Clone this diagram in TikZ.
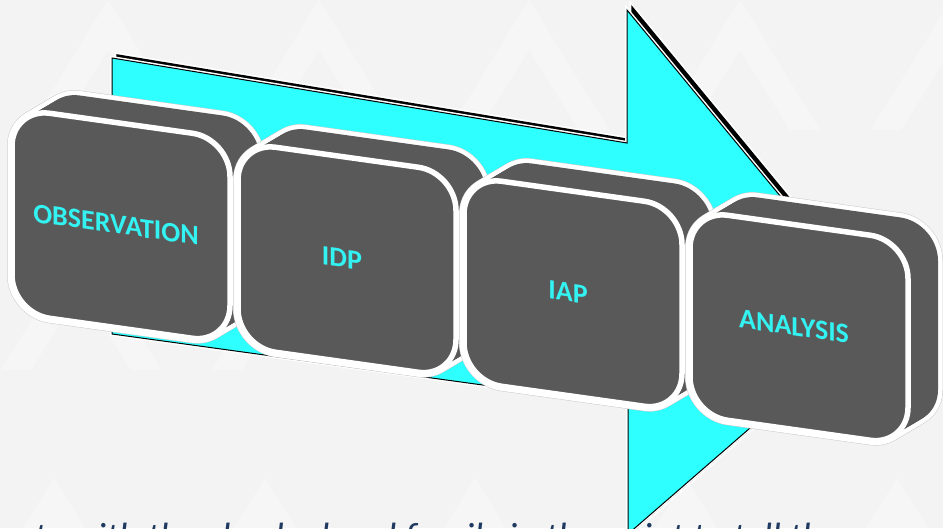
\documentclass[tikz,border=0pt]{standalone}
\usepackage{fontspec}
\setmainfont{Carlito}
\definecolor{bg}{HTML}{F3F3F3}
\definecolor{arrowcyan}{HTML}{2EFFFF}
\definecolor{boxgray}{HTML}{595959}
\definecolor{labelcyan}{HTML}{33F2F2}
\definecolor{navy}{HTML}{1F3A60}
\tikzset{
  pattern shape/.style={fill=white, opacity=0.32},
  face/.style={rounded corners=38},
  step label/.style={text=labelcyan, font=\bfseries\fontsize{28}{30}\selectfont,
                     inner sep=0, transform shape},
  caption text/.style={text=navy, font=\itshape\fontsize{38}{38}\selectfont,
                       inner sep=0, anchor=north west}
}
% one extruded rounded block: name, front-face origin x, y, label
\newcommand\stepblock[4]{%
  \begin{scope}[shift={(#2,#3)}, yslant=-0.14]
    \foreach \i in {0,...,12}
      \draw[face, line width=10, gray!40] ({2.5*\i},{-1.833*\i}) rectangle +(218,205);
    \foreach \i in {0,...,12}
      \draw[face, line width=9, white] ({2.5*\i},{-1.833*\i}) rectangle +(218,205);
    \foreach \i in {0,...,12}
      \fill[face, boxgray] ({2.5*\i},{-1.833*\i}) rectangle +(218,205);
    \draw[face, line width=5.5, white, fill=boxgray] (0,0) rectangle (218,205);
    \node[step label] (#1) at (104,102) {#4};
  \end{scope}}
\begin{document}
\begin{tikzpicture}[x=1pt, y=-1pt]
  \useasboundingbox (0,0) rectangle (943,528);
  \clip (0,0) rectangle (943,528);
  \fill[bg] (0,0) rectangle (943,528);
  % faint chevron texture
  \foreach \cx/\cy in {108/0, 319/0, 529/0, 740/0, 951/0, -103/0,
                       54/478, 265/478, 475/478, 686/478, 897/478,
                       81/240, 292/240, 502/240, 713/240, 924/240}
    \fill[pattern shape] (\cx,\cy) -- ++(-80,130) -- ++(30,0) -- (\cx,\cy+50)
      -- ++(50,80) -- ++(30,0) -- cycle;
  % arrow shadow
  \begin{scope}[shift={(5,-3)}]
    \draw[white, line width=5, line join=miter] (112,58) -- (627,143) -- (627,10)
      -- (879,316) -- (628,534) -- (628,405) -- (112,334) -- cycle;
    \draw[black, fill=black, line width=1.5] (112,58) -- (627,143) -- (627,10)
      -- (879,316) -- (628,534) -- (628,405) -- (112,334) -- cycle;
  \end{scope}
  % arrow
  \draw[white, line width=4] (112,58) -- (627,143) -- (627,10)
    -- (879,316) -- (628,534) -- (628,405) -- (112,334) -- cycle;
  \draw[black, fill=arrowcyan, line width=1] (112,58) -- (627,143) -- (627,10)
    -- (879,316) -- (628,534) -- (628,405) -- (112,334) -- cycle;
  % process blocks
  \stepblock{obs}{12}{108}{OBSERVATION}
  \stepblock{idp}{238}{142}{IDP}
  \stepblock{iap}{464}{176}{IAP}
  \stepblock{ana}{690}{210}{ANALYSIS}
  % caption line running off the lower edge
  \node[caption text] (caption) at (34,523)
    {ts with the checked and family in the point to tell the};
\end{tikzpicture}
\end{document}
